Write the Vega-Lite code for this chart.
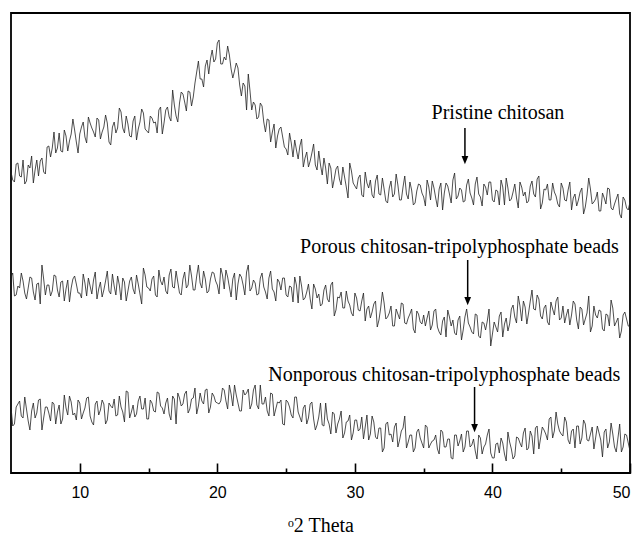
{
  "$schema": "https://vega.github.io/schema/vega-lite/v6.json",
  "width": 619,
  "height": 460,
  "autosize": {"type": "none"},
  "padding": {"left": 11, "top": 13, "right": 12, "bottom": 62},
  "background": "white",
  "config": {"view": {"stroke": "black", "strokeWidth": 1.8}},
  "datasets": {
    "xrd": [
      {"x":5,"a":301,"b":196,"c":66},{"x":5.25,"a":291,"b":177,"c":49},{"x":5.5,"a":310,"b":187,"c":69},{"x":5.75,"a":296,"b":200,"c":57},
      {"x":6,"a":289,"b":180,"c":76},{"x":6.25,"a":308,"b":185,"c":52},{"x":6.5,"a":317,"b":195,"c":62},{"x":6.75,"a":303,"b":173,"c":55},
      {"x":7,"a":297,"b":190,"c":73},{"x":7.25,"a":315,"b":208,"c":43},{"x":7.5,"a":299,"b":178,"c":66},{"x":7.75,"a":327,"b":188,"c":60},
      {"x":8,"a":325,"b":182,"c":71},{"x":8.25,"a":320,"b":197,"c":49},{"x":8.5,"a":340,"b":176,"c":68},{"x":8.75,"a":321,"b":192,"c":54},
      {"x":9,"a":337,"b":184,"c":65},{"x":9.25,"a":332,"b":171,"c":77},{"x":9.5,"a":354,"b":194,"c":58},{"x":9.75,"a":331,"b":189,"c":53},
      {"x":10,"a":339,"b":180,"c":70},{"x":10.25,"a":351,"b":199,"c":60},{"x":10.5,"a":330,"b":177,"c":75},{"x":10.75,"a":350,"b":187,"c":57},
      {"x":11,"a":341,"b":193,"c":48},{"x":11.25,"a":355,"b":174,"c":72},{"x":11.5,"a":334,"b":191,"c":63},{"x":11.75,"a":346,"b":183,"c":69},
      {"x":12,"a":350,"b":202,"c":53},{"x":12.25,"a":328,"b":179,"c":67},{"x":12.5,"a":351,"b":187,"c":74},{"x":12.75,"a":345,"b":197,"c":58},
      {"x":13,"a":361,"b":173,"c":66},{"x":13.25,"a":340,"b":191,"c":51},{"x":13.5,"a":349,"b":182,"c":81},{"x":13.75,"a":336,"b":196,"c":61},
      {"x":14,"a":357,"b":179,"c":56},{"x":14.25,"a":344,"b":189,"c":72},{"x":14.5,"a":364,"b":169,"c":64},{"x":14.75,"a":344,"b":198,"c":75},
      {"x":15,"a":340,"b":185,"c":54},{"x":15.25,"a":355,"b":194,"c":70},{"x":15.5,"a":351,"b":178,"c":61},{"x":15.75,"a":363,"b":203,"c":80},
      {"x":16,"a":339,"b":188,"c":65},{"x":16.25,"a":363,"b":182,"c":70},{"x":16.5,"a":356,"b":198,"c":59},{"x":16.75,"a":383,"b":186,"c":77},
      {"x":17,"a":357,"b":202,"c":49},{"x":17.25,"a":370,"b":180,"c":75},{"x":17.5,"a":379,"b":194,"c":69},{"x":17.75,"a":362,"b":185,"c":82},
      {"x":18,"a":381,"b":208,"c":64},{"x":18.25,"a":376,"b":183,"c":75},{"x":18.5,"a":401,"b":197,"c":59},{"x":18.75,"a":394,"b":190,"c":80},
      {"x":19,"a":386,"b":202,"c":69},{"x":19.25,"a":413,"b":180,"c":84},{"x":19.5,"a":414,"b":194,"c":66},{"x":19.75,"a":411,"b":200,"c":77},
      {"x":20,"a":430,"b":188,"c":70},{"x":20.25,"a":409,"b":205,"c":72},{"x":20.5,"a":416,"b":184,"c":83},{"x":20.75,"a":427,"b":196,"c":64},
      {"x":21,"a":404,"b":176,"c":79},{"x":21.25,"a":402,"b":200,"c":88},{"x":21.5,"a":405,"b":189,"c":70},{"x":21.75,"a":377,"b":196,"c":62},
      {"x":22,"a":387,"b":178,"c":78},{"x":22.25,"a":399,"b":208,"c":84},{"x":22.5,"a":363,"b":185,"c":69},{"x":22.75,"a":368,"b":190,"c":88},
      {"x":23,"a":356,"b":179,"c":64},{"x":23.25,"a":367,"b":200,"c":69},{"x":23.5,"a":341,"b":181,"c":76},{"x":23.75,"a":353,"b":195,"c":57},
      {"x":24,"a":341,"b":184,"c":79},{"x":24.25,"a":325,"b":172,"c":64},{"x":24.5,"a":344,"b":191,"c":70},{"x":24.75,"a":336,"b":195,"c":49},
      {"x":25,"a":324,"b":178,"c":73},{"x":25.25,"a":340,"b":187,"c":66},{"x":25.5,"a":316,"b":171,"c":55},{"x":25.75,"a":323,"b":188,"c":76},
      {"x":26,"a":327,"b":197,"c":56},{"x":26.25,"a":306,"b":173,"c":65},{"x":26.5,"a":321,"b":181,"c":49},{"x":26.75,"a":312,"b":174,"c":69},
      {"x":27,"a":329,"b":189,"c":54},{"x":27.25,"a":303,"b":175,"c":48},{"x":27.5,"a":308,"b":167,"c":70},{"x":27.75,"a":315,"b":183,"c":47},
      {"x":28,"a":289,"b":174,"c":54},{"x":28.25,"a":305,"b":188,"c":39},{"x":28.5,"a":294,"b":157,"c":59},{"x":28.75,"a":307,"b":176,"c":49},
      {"x":29,"a":288,"b":181,"c":62},{"x":29.25,"a":296,"b":165,"c":40},{"x":29.5,"a":275,"b":172,"c":52},{"x":29.75,"a":302,"b":160,"c":33},
      {"x":30,"a":287,"b":180,"c":53},{"x":30.25,"a":295,"b":163,"c":42},{"x":30.5,"a":278,"b":172,"c":56},{"x":30.75,"a":301,"b":152,"c":46},
      {"x":31,"a":285,"b":167,"c":33},{"x":31.25,"a":278,"b":161,"c":57},{"x":31.5,"a":292,"b":172,"c":36},{"x":31.75,"a":279,"b":153,"c":45},
      {"x":32,"a":295,"b":181,"c":21},{"x":32.25,"a":272,"b":154,"c":49},{"x":32.5,"a":285,"b":160,"c":38},{"x":32.75,"a":276,"b":147,"c":31},
      {"x":33,"a":299,"b":164,"c":50},{"x":33.25,"a":273,"b":154,"c":33},{"x":33.5,"a":286,"b":169,"c":45},{"x":33.75,"a":279,"b":149,"c":25},
      {"x":34,"a":291,"b":159,"c":38},{"x":34.25,"a":268,"b":144,"c":21},{"x":34.5,"a":282,"b":162,"c":41},{"x":34.75,"a":288,"b":151,"c":35},
      {"x":35,"a":276,"b":158,"c":25},{"x":35.25,"a":293,"b":155,"c":46},{"x":35.5,"a":273,"b":143,"c":29},{"x":35.75,"a":285,"b":162,"c":33},
      {"x":36,"a":266,"b":146,"c":24},{"x":36.25,"a":290,"b":138,"c":43},{"x":36.5,"a":280,"b":156,"c":26},{"x":36.75,"a":287,"b":163,"c":34},
      {"x":37,"a":270,"b":147,"c":15},{"x":37.25,"a":300,"b":140,"c":38},{"x":37.5,"a":277,"b":153,"c":27},{"x":37.75,"a":283,"b":133,"c":39},
      {"x":38,"a":272,"b":156,"c":26},{"x":38.25,"a":294,"b":150,"c":42},{"x":38.5,"a":275,"b":141,"c":28},{"x":38.75,"a":289,"b":159,"c":22},
      {"x":39,"a":279,"b":137,"c":38},{"x":39.25,"a":267,"b":151,"c":19},{"x":39.5,"a":286,"b":143,"c":29},{"x":39.75,"a":291,"b":164,"c":44},
      {"x":40,"a":273,"b":139,"c":15},{"x":40.25,"a":283,"b":146,"c":29},{"x":40.5,"a":268,"b":157,"c":20},{"x":40.75,"a":286,"b":136,"c":30},
      {"x":41,"a":295,"b":155,"c":12},{"x":41.25,"a":272,"b":149,"c":31},{"x":41.5,"a":281,"b":168,"c":14},{"x":41.75,"a":275,"b":150,"c":36},
      {"x":42,"a":291,"b":167,"c":30},{"x":42.25,"a":277,"b":172,"c":40},{"x":42.5,"a":270,"b":149,"c":23},{"x":42.75,"a":287,"b":172,"c":42},
      {"x":43,"a":279,"b":164,"c":19},{"x":43.25,"a":294,"b":178,"c":47},{"x":43.5,"a":264,"b":157,"c":35},{"x":43.75,"a":284,"b":165,"c":43},
      {"x":44,"a":289,"b":151,"c":33},{"x":44.25,"a":273,"b":171,"c":56},{"x":44.5,"a":281,"b":158,"c":42},{"x":44.75,"a":269,"b":176,"c":49},
      {"x":45,"a":290,"b":155,"c":39},{"x":45.25,"a":273,"b":150,"c":56},{"x":45.5,"a":283,"b":164,"c":33},{"x":45.75,"a":263,"b":158,"c":42},
      {"x":46,"a":279,"b":169,"c":25},{"x":46.25,"a":273,"b":144,"c":47},{"x":46.5,"a":285,"b":164,"c":35},{"x":46.75,"a":266,"b":154,"c":49},
      {"x":47,"a":295,"b":177,"c":32},{"x":47.25,"a":269,"b":147,"c":46},{"x":47.5,"a":274,"b":158,"c":35},{"x":47.75,"a":262,"b":163,"c":40},
      {"x":48,"a":280,"b":144,"c":16},{"x":48.25,"a":269,"b":159,"c":44},{"x":48.5,"a":284,"b":147,"c":31},{"x":48.75,"a":263,"b":165,"c":39},
      {"x":49,"a":274,"b":151,"c":21},{"x":49.25,"a":259,"b":135,"c":49},{"x":49.5,"a":276,"b":158,"c":26},{"x":49.75,"a":265,"b":154,"c":38},
      {"x":50,"a":271,"b":146,"c":22},
      {"x":5.125,"a":293,"b":200,"c":47},{"x":5.375,"a":309,"b":178,"c":66},{"x":5.625,"a":297,"b":185,"c":72},{"x":5.875,"a":313,"b":192,"c":55},
      {"x":6.125,"a":292,"b":174,"c":64},{"x":6.375,"a":305,"b":196,"c":43},{"x":6.625,"a":290,"b":181,"c":70},{"x":6.875,"a":313,"b":189,"c":60},
      {"x":7.125,"a":312,"b":169,"c":74},{"x":7.375,"a":301,"b":194,"c":55},{"x":7.625,"a":326,"b":188,"c":66},{"x":7.875,"a":316,"b":177,"c":52},
      {"x":8.125,"a":341,"b":198,"c":69},{"x":8.375,"a":325,"b":183,"c":61},{"x":8.625,"a":322,"b":191,"c":49},{"x":8.875,"a":343,"b":172,"c":78},
      {"x":9.125,"a":322,"b":193,"c":58},{"x":9.375,"a":339,"b":185,"c":71},{"x":9.625,"a":343,"b":197,"c":60},{"x":9.875,"a":320,"b":180,"c":73},
      {"x":10.125,"a":346,"b":175,"c":54},{"x":10.375,"a":336,"b":190,"c":65},{"x":10.625,"a":356,"b":195,"c":76},{"x":10.875,"a":345,"b":179,"c":51},
      {"x":11.125,"a":336,"b":201,"c":69},{"x":11.375,"a":353,"b":184,"c":58},{"x":11.625,"a":341,"b":176,"c":73},{"x":11.875,"a":358,"b":192,"c":49},
      {"x":12.125,"a":331,"b":182,"c":70},{"x":12.375,"a":346,"b":199,"c":65},{"x":12.625,"a":340,"b":178,"c":57},{"x":12.875,"a":365,"b":188,"c":77},
      {"x":13.125,"a":345,"b":195,"c":61},{"x":13.375,"a":357,"b":172,"c":82},{"x":13.625,"a":337,"b":192,"c":55},{"x":13.875,"a":352,"b":184,"c":68},
      {"x":14.125,"a":333,"b":198,"c":59},{"x":14.375,"a":351,"b":179,"c":77},{"x":14.625,"a":360,"b":205,"c":64},{"x":14.875,"a":342,"b":186,"c":54},
      {"x":15.125,"a":357,"b":182,"c":73},{"x":15.375,"a":350,"b":197,"c":62},{"x":15.625,"a":340,"b":176,"c":81},{"x":15.875,"a":366,"b":192,"c":67},
      {"x":16.125,"a":350,"b":196,"c":59},{"x":16.375,"a":366,"b":179,"c":75},{"x":16.625,"a":352,"b":204,"c":53},{"x":16.875,"a":368,"b":185,"c":74},
      {"x":17.125,"a":351,"b":191,"c":80},{"x":17.375,"a":381,"b":178,"c":67},{"x":17.625,"a":371,"b":201,"c":79},{"x":17.875,"a":382,"b":188,"c":60},
      {"x":18.125,"a":367,"b":197,"c":74},{"x":18.375,"a":390,"b":183,"c":85},{"x":18.625,"a":412,"b":208,"c":67},{"x":18.875,"a":394,"b":185,"c":72},
      {"x":19.125,"a":407,"b":194,"c":83},{"x":19.375,"a":399,"b":182,"c":60},{"x":19.625,"a":423,"b":201,"c":80},{"x":19.875,"a":414,"b":192,"c":71},
      {"x":20.125,"a":433,"b":179,"c":69},{"x":20.375,"a":409,"b":198,"c":85},{"x":20.625,"a":413,"b":203,"c":72},{"x":20.875,"a":418,"b":186,"c":88},
      {"x":21.125,"a":395,"b":194,"c":67},{"x":21.375,"a":410,"b":173,"c":78},{"x":21.625,"a":388,"b":199,"c":62},{"x":21.875,"a":390,"b":188,"c":83},
      {"x":22.125,"a":363,"b":201,"c":80},{"x":22.375,"a":382,"b":182,"c":64},{"x":22.625,"a":371,"b":193,"c":83},{"x":22.875,"a":354,"b":178,"c":68},
      {"x":23.125,"a":370,"b":195,"c":88},{"x":23.375,"a":351,"b":186,"c":69},{"x":23.625,"a":354,"b":174,"c":62},{"x":23.875,"a":331,"b":202,"c":80},
      {"x":24.125,"a":349,"b":181,"c":57},{"x":24.375,"a":337,"b":194,"c":71},{"x":24.625,"a":346,"b":183,"c":73},{"x":24.875,"a":326,"b":195,"c":48},
      {"x":25.125,"a":318,"b":176,"c":71},{"x":25.375,"a":330,"b":186,"c":58},{"x":25.625,"a":333,"b":196,"c":76},{"x":25.875,"a":314,"b":170,"c":61},
      {"x":26.125,"a":334,"b":187,"c":51},{"x":26.375,"a":315,"b":175,"c":68},{"x":26.625,"a":306,"b":189,"c":55},{"x":26.875,"a":320,"b":164,"c":71},
      {"x":27.125,"a":308,"b":184,"c":43},{"x":27.375,"a":322,"b":179,"c":56},{"x":27.625,"a":298,"b":169,"c":48},{"x":27.875,"a":305,"b":188,"c":70},
      {"x":28.125,"a":310,"b":171,"c":49},{"x":28.375,"a":285,"b":191,"c":61},{"x":28.625,"a":304,"b":163,"c":40},{"x":28.875,"a":294,"b":175,"c":54},
      {"x":29.125,"a":306,"b":165,"c":35},{"x":29.375,"a":286,"b":182,"c":51},{"x":29.625,"a":310,"b":168,"c":58},{"x":29.875,"a":290,"b":157,"c":40},
      {"x":30.125,"a":284,"b":175,"c":53},{"x":30.375,"a":298,"b":162,"c":44},{"x":30.625,"a":276,"b":180,"c":34},{"x":30.875,"a":290,"b":164,"c":58},
      {"x":31.125,"a":293,"b":155,"c":39},{"x":31.375,"a":275,"b":169,"c":51},{"x":31.625,"a":298,"b":146,"c":34},{"x":31.875,"a":278,"b":165,"c":45},
      {"x":32.125,"a":284,"b":170,"c":25},{"x":32.375,"a":270,"b":156,"c":51},{"x":32.625,"a":292,"b":167,"c":39},{"x":32.875,"a":279,"b":147,"c":46},
      {"x":33.125,"a":288,"b":159,"c":26},{"x":33.375,"a":273,"b":170,"c":42},{"x":33.625,"a":297,"b":150,"c":57},{"x":33.875,"a":274,"b":155,"c":31},
      {"x":34.125,"a":283,"b":164,"c":38},{"x":34.375,"a":270,"b":140,"c":25},{"x":34.625,"a":289,"b":159,"c":44},{"x":34.875,"a":280,"b":149,"c":30},
      {"x":35.125,"a":267,"b":147,"c":48},{"x":35.375,"a":286,"b":162,"c":25},{"x":35.625,"a":292,"b":148,"c":32},{"x":35.875,"a":275,"b":164,"c":38},
      {"x":36.125,"a":284,"b":141,"c":19},{"x":36.375,"a":263,"b":152,"c":41},{"x":36.625,"a":290,"b":136,"c":26},{"x":36.875,"a":279,"b":156,"c":34},
      {"x":37.125,"a":293,"b":153,"c":14},{"x":37.375,"a":274,"b":138,"c":38},{"x":37.625,"a":285,"b":157,"c":32},{"x":37.875,"a":271,"b":143,"c":21},
      {"x":38.125,"a":288,"b":164,"c":42},{"x":38.375,"a":280,"b":146,"c":26},{"x":38.625,"a":268,"b":139,"c":34},{"x":38.875,"a":296,"b":158,"c":14},
      {"x":39.125,"a":276,"b":135,"c":35},{"x":39.375,"a":289,"b":150,"c":26},{"x":39.625,"a":278,"b":152,"c":38},{"x":39.875,"a":291,"b":127,"c":20},
      {"x":40.125,"a":271,"b":151,"c":15},{"x":40.375,"a":282,"b":141,"c":30},{"x":40.625,"a":293,"b":161,"c":35},{"x":40.875,"a":268,"b":149,"c":19},
      {"x":41.125,"a":285,"b":142,"c":41},{"x":41.375,"a":274,"b":164,"c":24},{"x":41.625,"a":289,"b":156,"c":17},{"x":41.875,"a":265,"b":177,"c":35},
      {"x":42.125,"a":286,"b":152,"c":26},{"x":42.375,"a":281,"b":166,"c":45},{"x":42.625,"a":272,"b":160,"c":25},{"x":42.875,"a":292,"b":183,"c":37},
      {"x":43.125,"a":276,"b":163,"c":45},{"x":43.375,"a":297,"b":174,"c":24},{"x":43.625,"a":270,"b":154,"c":46},{"x":43.875,"a":283,"b":168,"c":39},
      {"x":44.125,"a":273,"b":148,"c":54},{"x":44.375,"a":290,"b":164,"c":35},{"x":44.625,"a":277,"b":172,"c":61},{"x":44.875,"a":266,"b":153,"c":42},
      {"x":45.125,"a":285,"b":167,"c":37},{"x":45.375,"a":272,"b":158,"c":51},{"x":45.625,"a":291,"b":148,"c":29},{"x":45.875,"a":275,"b":172,"c":44},
      {"x":46.125,"a":267,"b":153,"c":47},{"x":46.375,"a":281,"b":166,"c":29},{"x":46.625,"a":259,"b":148,"c":53},{"x":46.875,"a":278,"b":160,"c":33},
      {"x":47.125,"a":284,"b":141,"c":39},{"x":47.375,"a":271,"b":167,"c":24},{"x":47.625,"a":281,"b":155,"c":47},{"x":47.875,"a":262,"b":162,"c":33},
      {"x":48.125,"a":275,"b":142,"c":41},{"x":48.375,"a":285,"b":158,"c":25},{"x":48.625,"a":265,"b":173,"c":50},{"x":48.875,"a":269,"b":147,"c":26},
      {"x":49.125,"a":279,"b":155,"c":35},{"x":49.375,"a":255,"b":142,"c":21},{"x":49.625,"a":273,"b":161,"c":39},{"x":49.875,"a":263,"b":147,"c":30}
    ],
    "notes": [
      {"label":"Pristine chitosan","tx":40.4,"ty":360,"ax":38.0,"ytop":345,"yhead":313},
      {"label":"Porous chitosan-tripolyphosphate beads","tx":37.6,"ty":226,"ax":38.2,"ytop":213,"yhead":172},
      {"label":"Nonporous chitosan-tripolyphosphate beads","tx":36.5,"ty":98,"ax":38.7,"ytop":86,"yhead":45}
    ]
  },
  "layer": [
    {
      "data": {"name": "xrd"},
      "transform": [{"fold": ["a", "b", "c"], "as": ["series", "v"]}],
      "mark": {"type": "line", "color": "#222222", "strokeWidth": 0.8, "clip": true},
      "encoding": {
        "x": {
          "field": "x", "type": "quantitative",
          "scale": {"domain": [5, 50], "nice": false, "zero": false},
          "axis": {
            "values": [10, 15, 20, 25, 30, 35, 40, 45, 50],
            "labelExpr": "datum.value % 10 === 0 ? datum.label : ''",
            "tickSize": {"condition": {"test": "datum.value % 10 === 0", "value": -10}, "value": -5},
            "tickColor": "black", "tickWidth": 1.6,
            "domain": false, "grid": false,
            "labelFont": "Liberation Sans", "labelFontSize": 16, "labelColor": "black",
            "labelPadding": 21,
            "title": "ᵒ2 Theta",
            "titleFont": "Liberation Serif", "titleFontSize": 20, "titleFontWeight": "normal", "titleColor": "black",
            "titlePadding": 15
          }
        },
        "y": {"field": "v", "type": "quantitative", "scale": {"domain": [0, 460], "nice": false, "zero": false}, "axis": null},
        "detail": {"field": "series"}
      }
    },
    {
      "data": {"name": "notes"},
      "mark": {"type": "text", "font": "Liberation Serif", "fontSize": 20, "color": "black", "align": "center", "baseline": "middle"},
      "encoding": {
        "x": {"field": "tx", "type": "quantitative"},
        "y": {"field": "ty", "type": "quantitative"},
        "text": {"field": "label"}
      }
    },
    {
      "data": {"name": "notes"},
      "mark": {"type": "rule", "color": "black", "strokeWidth": 1.5},
      "encoding": {
        "x": {"field": "ax", "type": "quantitative"},
        "y": {"field": "ytop", "type": "quantitative"},
        "y2": {"field": "yhead"}
      }
    },
    {
      "data": {"name": "notes"},
      "mark": {"type": "point", "shape": "M-1,-1.2L1,-1.2L0,1.3Z", "filled": true, "color": "black", "opacity": 1, "size": 45},
      "encoding": {
        "x": {"field": "ax", "type": "quantitative"},
        "y": {"field": "yhead", "type": "quantitative"}
      }
    }
  ]
}
